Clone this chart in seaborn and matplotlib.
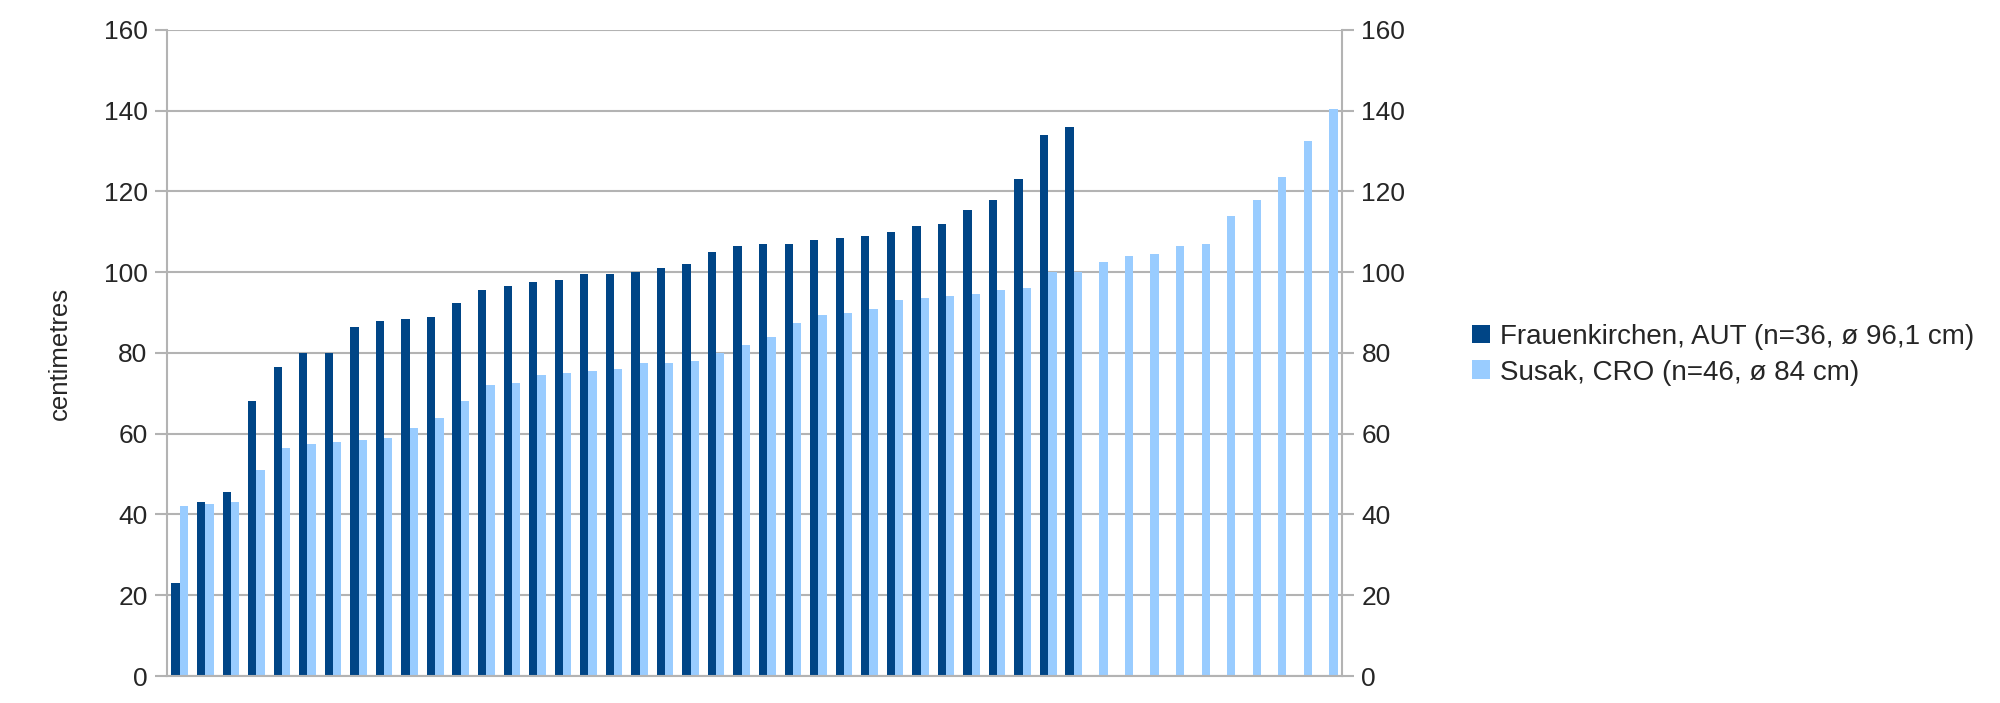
import pandas as pd
import matplotlib.pyplot as plt
import seaborn as sns

# bar heights (sorted ascending per site)
FRAUENKIRCHEN = [23, 43, 45.5, 68, 76.5, 80, 80, 86.5, 88, 88.5, 89, 92.5, 95.5, 96.5, 97.5, 98,
                 99.5, 99.5, 100, 101, 102, 105, 106.5, 107, 107, 108, 108.5, 109, 110, 111.5, 112, 115.5,
                 118, 123, 134, 136]
SUSAK = [42, 42.5, 43, 51, 56.5, 57.5, 58, 58.5, 59, 61.5, 64, 68, 72, 72.5, 74.5, 75,
         75.5, 76, 77.5, 77.5, 78, 80, 82, 84, 87.5, 89.5, 90, 91, 93, 93.5, 94, 94.5,
         95.5, 96, 100, 100, 102.5, 104, 104.5, 106.5, 107, 114, 118, 123.5, 132.5, 140.5]
SERIES = ['Frauenkirchen, AUT (n=36, ø 96,1 cm)', 'Susak, CRO (n=46, ø 84 cm)']
COLORS = ['#004586', '#99CCFF']
Y_TICKS = [0, 20, 40, 60, 80, 100, 120, 140, 160]

rows = []
for i, v in enumerate(FRAUENKIRCHEN):
    rows.append({'idx': i, 'series': SERIES[0], 'cm': v})
for i, v in enumerate(SUSAK):
    rows.append({'idx': i, 'series': SERIES[1], 'cm': v})
df = pd.DataFrame(rows)

sns.set_style('white')
plt.rcParams['font.family'] = ['Liberation Sans', 'DejaVu Sans']
plt.rcParams['font.size'] = 19

GRID = '#b3b3b3'

fig = plt.figure(figsize=(20, 7.03), dpi=100)
ax = fig.add_axes([0.0835, 0.0384, 0.5875, 0.9190])

sns.barplot(ax=ax, data=df, x='idx', y='cm', hue='series', hue_order=SERIES,
            order=list(range(len(SUSAK))), palette=COLORS, width=0.65, gap=0,
            saturation=1, linewidth=0, legend=True)

ax.set_ylim(0, 160)
ax.set_xlim(-0.5, len(SUSAK) - 0.5)
ax.set_yticks(Y_TICKS)
ax.set_xticks([])
ax.set_xlabel('')
ax.set_ylabel('centimetres', fontsize=18.5, labelpad=23)
ax.yaxis.grid(True, color=GRID, linewidth=1.5)
ax.set_axisbelow(True)
ax.tick_params(axis='y', which='both', left=True, right=True, labelleft=True, labelright=True,
               direction='out', length=8.5, width=1.5, color=GRID, labelsize=19, pad=5.5)
for side in ['left', 'right', 'bottom']:
    ax.spines[side].set_color(GRID)
    ax.spines[side].set_linewidth(1.5)
ax.spines['top'].set_visible(False)

handles, labels = ax.get_legend_handles_labels()
ax.legend(handles, labels, loc='center left', bbox_to_anchor=(0.7235, 0.4955),
          bbox_transform=fig.transFigure, frameon=False, fontsize=20,
          handlelength=0.65, handleheight=0.65, handletextpad=0.36, labelspacing=0.35)

plt.savefig('out.png', dpi=100)
plt.close()
